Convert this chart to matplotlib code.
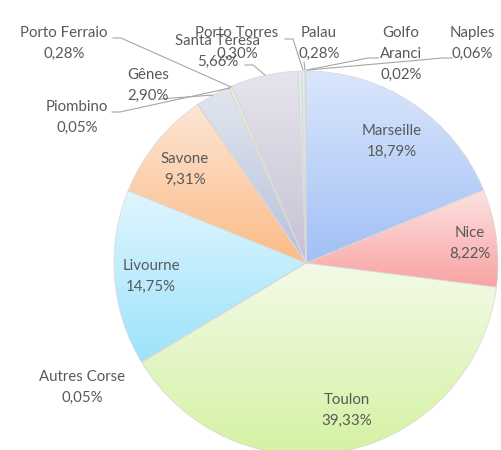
import matplotlib
matplotlib.use("Agg")
import matplotlib.pyplot as plt
import numpy as np
from matplotlib.colors import to_rgb

# ---- data ----
categories = ["Marseille", "Nice", "Toulon", "Autres Corse", "Livourne", "Savone",
              "Piombino", "Gênes", "Porto Ferraio", "Santa Teresa", "Porto Torres",
              "Palau", "Golfo Aranci", "Naples"]
values = [18.79, 8.22, 39.33, 0.05, 14.75, 9.31, 0.05, 2.90, 0.28, 5.66, 0.30, 0.28, 0.02, 0.06]
display_names = ["Marseille", "Nice", "Toulon", "Autres Corse", "Livourne", "Savone",
                 "Piombino", "Gênes", "Porto Ferraio", "Santa Teresa", "Porto Torres",
                 "Palau", "Golfo\nAranci", "Naples"]

# ---- styles ----
top_colors = ["#dae6fc", "#fde2e2", "#f3fae8", "#e8f4d8", "#e0f6fe", "#fde6d5",
              "#e8eedc", "#e1e6f0", "#e8eedc", "#e6e4ec", "#e3eeee", "#e3eeee",
              "#fde4e4", "#fbd6cf"]
bottom_colors = ["#a2c0f5", "#f9a3a3", "#d4f2a2", "#c8e8a0", "#9de2fb", "#fbbb86",
                 "#d4dcc0", "#b6c2d8", "#d4dcc0", "#c6c2d5", "#cfdede", "#cfdede",
                 "#f7c0b8", "#f5bfb5"]

label_pos = [(392, 141), (470, 243), (347, 410), (82, 387), (151, 276), (185, 169),
             (77, 117), (148, 85), (64, 43), (218, 51), (237, 43), (319, 43),
             (401, 54), (472, 43)]

leaders = {
    "Porto Ferraio": [(113, 38), (121, 38), (231, 87)],
    "Piombino": [(112, 112), (120, 112), (230, 88)],
    "Gênes": [(160, 99), (213, 95)],
    "Santa Teresa": [(245, 65), (253, 65), (265, 75)],
    "Porto Torres": [(285, 39), (293, 39), (303, 70)],
    "Palau": [(304, 62), (305, 70)],
    "Golfo Aranci": [(378, 58), (368, 58), (307, 70)],
    "Naples": [(452, 58), (443, 58), (308, 70)],
}

W, H = 501, 450
CX, CY, R = 306, 263, 192

fig = plt.figure(figsize=(W / 100, H / 100), dpi=100)
ax = fig.add_axes([0, 0, 1, 1])

wedges, _ = ax.pie(values, startangle=90, counterclock=False,
                   center=(CX, H - CY), radius=R, frame=True,
                   wedgeprops=dict(linewidth=0.5, edgecolor="#d8d8d8", facecolor="none", zorder=3))

t = np.linspace(0, 1, 256)[:, None]
for w, ct, cb in zip(wedges, top_colors, bottom_colors):
    a = np.array(to_rgb(ct)); b = np.array(to_rgb(cb))
    img = a[None, None, :] * (1 - t[:, :, None]) + b[None, None, :] * t[:, :, None]
    ext = w.get_path().get_extents()
    im = ax.imshow(img, extent=(ext.x0, ext.x1, ext.y0, ext.y1), origin="upper",
                   aspect="auto", interpolation="bilinear", zorder=2)
    im.set_clip_path(w)

txt_kw = dict(color="#595959", fontsize=10.8, family=["Lato", "DejaVu Sans"],
              ha="center", va="center", linespacing=1.62, zorder=5)
for name, v, (lx, ly) in zip(display_names, values, label_pos):
    s = f"{name}\n{v:.2f}".replace(".", ",") + "%"
    ax.text(lx, H - ly, s, **txt_kw)

for pts in leaders.values():
    xs = [p[0] for p in pts]; ys = [H - p[1] for p in pts]
    ax.plot(xs, ys, color="#a6a6a6", lw=0.8, zorder=4)

ax.set_xlim(0, W)
ax.set_ylim(0, H)
ax.set_aspect("auto")
ax.axis("off")
fig.savefig("out.png", dpi=100, facecolor="white")
